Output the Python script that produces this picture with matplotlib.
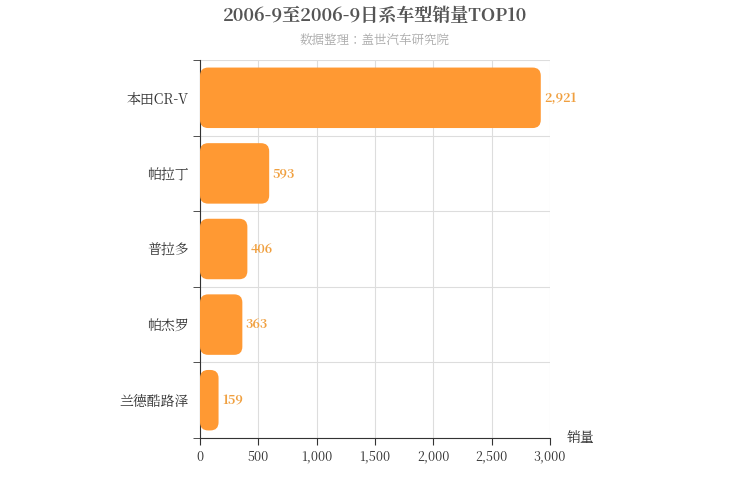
import matplotlib
matplotlib.use("Agg")
import matplotlib.pyplot as plt
from matplotlib import font_manager as fm
from matplotlib.patches import FancyBboxPatch

cjk = None
for f in fm.fontManager.ttflist:
    if "CJK" in f.name and ("SC" in f.name or cjk is None):
        cjk = f.name
        if "SC" in f.name:
            break
if cjk is None:
    import glob
    for path in glob.glob("/usr/share/fonts/**/*CJK*", recursive=True):
        try:
            fm.fontManager.addfont(path)
            cjk = fm.FontProperties(fname=path).get_name()
            break
        except Exception:
            pass
plt.rcParams['font.family'] = 'sans-serif'
plt.rcParams['font.sans-serif'] = [cjk or 'Noto Sans CJK SC', 'DejaVu Sans']

categories = ["本田CR-V", "帕拉丁", "普拉多", "帕杰罗", "兰德酷路泽"]
values = [2921, 593, 406, 363, 159]
xticks = [0, 500, 1000, 1500, 2000, 2500, 3000]
xticklabels = ["0", "500", "1,000", "1,500", "2,000", "2,500", "3,000"]

fig = plt.figure(figsize=(7.5, 5), dpi=100)
ax = fig.add_axes([200/750, 62/500, 350/750, 378/500])
n = len(categories)
ax.set_xlim(0, 3000)
ax.set_ylim(n - 0.5, -0.5)
color = "#ff9933"
h = 0.8
asp = (5/378) / (3000/350)
for i, v in enumerate(values):
    p = FancyBboxPatch((0, i - h/2), v, h, boxstyle="round,pad=0,rounding_size=70",
                       mutation_aspect=asp, fc=color, ec="none", zorder=3)
    ax.add_patch(p)
    ax.text(v + 30, i, f"{v:,}", va="center", ha="left", fontsize=9,
            fontweight="bold", color="#f0a040", zorder=4)

ax.set_xticks(xticks)
ax.set_xticklabels(xticklabels, fontsize=9, color="#333333")
ax.set_yticks(range(n))
ax.set_yticklabels(categories, fontsize=10, color="#333333")
ax.tick_params(axis="y", length=0, pad=8)
ax.set_yticks([i - 0.5 for i in range(n + 1)], minor=True)
ax.tick_params(axis="y", which="minor", length=5, color="#333333")
ax.tick_params(axis="x", length=5, color="#333333")
ax.grid(axis="x", color="#dddddd", zorder=0)
for y in range(n + 1):
    ax.axhline(y - 0.5, color="#dddddd", lw=0.8, zorder=0)
for s in ["top", "right"]:
    ax.spines[s].set_visible(False)
ax.spines["left"].set_color("#333333")
ax.spines["bottom"].set_color("#333333")
ax.set_axisbelow(True)

fig.text(375/750, 1 - 16/500, "2006-9至2006-9日系车型销量TOP10", ha="center", va="center",
         fontsize=13, fontweight="bold", color="#555555")
fig.text(375/750, 1 - 41/500, "数据整理：盖世汽车研究院", ha="center", va="center",
         fontsize=9, color="#aaaaaa")
fig.text(580/750, 1 - 438/500, "销量", ha="center", va="center", fontsize=10, color="#333333")

fig.savefig("out.png", dpi=100)
